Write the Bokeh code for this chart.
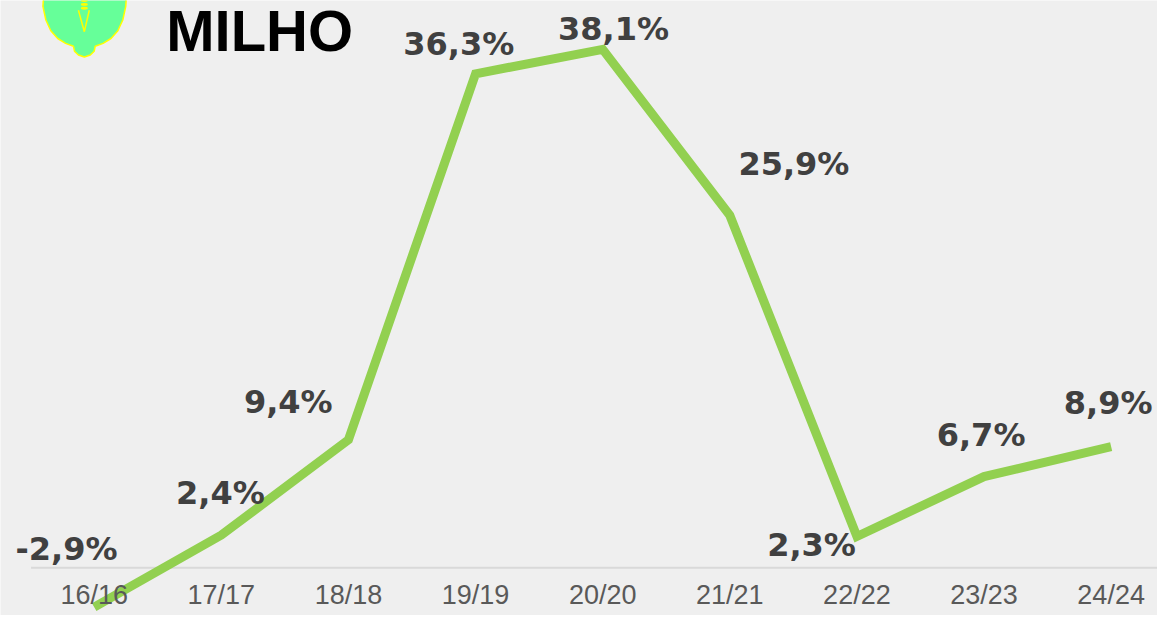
from bokeh.plotting import figure
from bokeh.models import Range1d
from bokeh.core.properties import value
from bokeh.embed import file_html
from bokeh.resources import INLINE

# ---- data ----
categories = ["16/16", "17/17", "18/18", "19/19", "20/20", "21/21", "22/22", "23/23", "24/24"]
values = [-2.9, 2.4, 9.4, 36.3, 38.1, 25.9, 2.3, 6.7, 8.9]
labels = ["-2,9%", "2,4%", "9,4%", "36,3%", "38,1%", "25,9%", "2,3%", "6,7%", "8,9%"]
title_text = "MILHO"

# ---- layout (reference-pixel offsets of label baselines from their points) ----
label_dx = [-28, -1, -61, -17, 11, 65, -46, -3, -3]
label_dy = [-47, -30, -26, -18, -8, -40, 22, -30, -32]

W, H = 1157, 615
KX, KY = W / 1173.0, H / 631.0          # reference -> figure pixel scale
px_x = (1126 - 95) * KX / 8.0            # pixels per category
px_y = 13.96 * KY                        # pixels per percentage point
x_start = -(95 * KX) / px_x
x_end = x_start + W / px_x
y_end = (582 * KY) / px_y
y_start = y_end - H / px_y
BASE_FIX = 0.39                          # renderer baseline correction (em)

LBL_FS, CAT_FS, TTL_FS = 32, 27, 58

def sx(v):
    return x_start + v * KX / px_x

def sy(v):
    return y_end - v * KY / px_y

p = figure(width=W, height=H, output_backend="svg", toolbar_location=None,
           x_range=Range1d(x_start, x_end), y_range=Range1d(y_start, y_end),
           min_border=0, background_fill_color="#EFEFEF", border_fill_color="#EFEFEF")
p.axis.visible = False
p.grid.visible = False
p.outline_line_color = None

xs = list(range(len(categories)))

# zero line
p.line([sx(31), x_end], [0, 0], line_color="#D9D9D9", line_width=2)

# series line
p.line(xs, values, line_color="#92D050", line_width=9, line_join="miter")

# data labels
lx = [i + dx * KX / px_x for i, dx in enumerate(label_dx)]
ly = [v - dy * KY / px_y + BASE_FIX * LBL_FS / px_y for v, dy in zip(values, label_dy)]
p.text(lx, ly, text=labels, text_align="center", text_baseline="alphabetic",
       text_font=value("DejaVu Sans"), text_font_style="bold",
       text_font_size=f"{LBL_FS}px", text_color="#404040")

# category labels
cy = sy(621) + BASE_FIX * CAT_FS / px_y
p.text(xs, [cy] * len(xs), text=categories, text_align="center",
       text_baseline="alphabetic", text_font=value("Liberation Sans"),
       text_font_size=f"{CAT_FS}px", text_color="#595959")

# title (kept fully inside the picture)
p.text([sx(168)], [sy(54) + BASE_FIX * TTL_FS / px_y], text=[title_text], text_align="left",
       text_baseline="alphabetic", text_font=value("Liberation Sans"),
       text_font_style="bold", text_font_size=f"{TTL_FS}px", text_color="#000000")

# logo (decorative)
logo_pts = [(44, -10), (43, 6), (46, 20), (51, 31), (58, 39), (66, 44), (74, 47),
            (75, 52), (79, 56), (85, 58), (91, 56), (95, 52), (96, 47), (104, 44),
            (112, 39), (119, 31), (124, 20), (127, 6), (128, -10)]
p.patch([sx(a) for a, b in logo_pts], [sy(b) for a, b in logo_pts],
        fill_color="#66FF99", line_color="#FFFF00", line_width=1.5)
p.line([sx(79), sx(85), sx(90)], [sy(10), sy(32), sy(10)], line_color="#FFFF00", line_width=1.5)
p.ellipse([sx(85), sx(85), sx(85)], [sy(0), sy(4), sy(8)], width=7 * KX / px_x,
          height=3 * KY / px_y, fill_color="#FFFF00", line_color=None)

open("out.html", "w").write(file_html(p, INLINE))
